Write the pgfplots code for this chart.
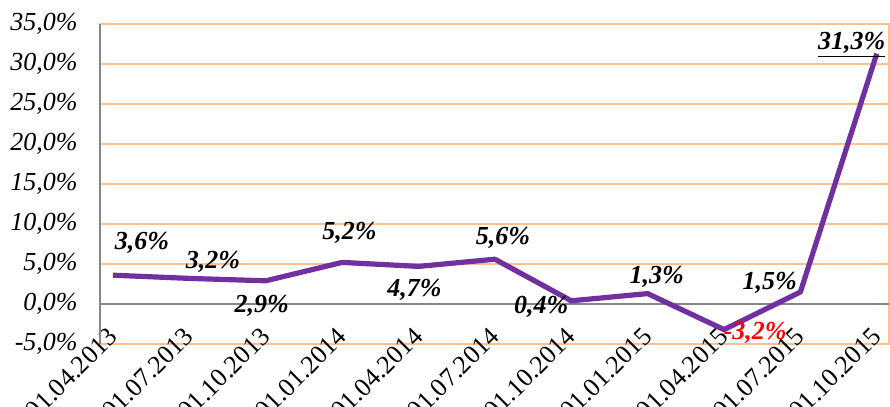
\documentclass[border=0pt]{standalone}
\usepackage{pgfplots}
\usepackage{pgfplotstable}
\pgfplotsset{compat=1.18}
\usepackage{fontspec}
\setmainfont{Liberation Serif}
\definecolor{lineP}{HTML}{7030A0}
\definecolor{gridO}{HTML}{FAC090}
\definecolor{axG}{HTML}{868686}
\pgfplotstableread{
x y dx dy lbl
0 3.6 14.5 16 {3,6\%}
1 3.2 11.8 8.2 {3,2\%}
2 2.9 -2 -12.6 {2,9\%}
3 5.2 3.7 14.7 {5,2\%}
4 4.7 -2 -11.8 {4,7\%}
5 5.6 4 10.6 {5,6\%}
6 0.4 -15 -3 {0,4\%}
7 1.3 4.5 8.3 {1,3\%}
8 -3.2 15.5 -1.7 {\textcolor{red}{-3,2\%}}
9 1.5 -15.3 4.5 {1,5\%}
10 31.3 -12.5 4.3 {\underline{31,3\%}}
}\datatab
\begin{document}
\begin{tikzpicture}
\begin{axis}[
  name=ax,
  scale only axis,
  width=394.5pt, height=160pt,
  xmin=-0.17, xmax=10.16,
  ymin=-5, ymax=35,
  ytick={-5,0,...,35},
  xtick={0,...,10},
  xticklabels={01.04.2013,01.07.2013,01.10.2013,01.01.2014,01.04.2014,01.07.2014,01.10.2014,01.01.2015,01.04.2015,01.07.2015,01.10.2015},
  major tick length=0pt,
  ymajorgrids,
  grid style={gridO, line width=1pt},
  axis line style={gridO, line width=1pt},
  /pgf/number format/assume math mode=true,
  yticklabel={\textit{\pgfmathprintnumber[fixed,fixed zerofill,precision=1,use comma]{\tick}\%}},
  yticklabel style={font=\fontsize{13}{15}\selectfont, anchor=east, inner xsep=0pt, xshift=-11pt},
  xticklabel style={font=\fontsize{13}{15}\selectfont, yshift=6pt, xshift=0pt, rotate=45, anchor=east, inner sep=0pt},
  extra y ticks={0},
  extra y tick labels={},
  extra y tick style={grid style={axG, line width=1pt}},
  clip=false,
]
\draw[axG, line width=1pt] (rel axis cs:0,0) -- (rel axis cs:0,1);
\addplot[lineP, line width=2.6pt, line join=round, mark=none] table[x=x, y=y] {\datatab};
\addplot[draw=none, mark=none,
  point meta=explicit symbolic,
  visualization depends on={\thisrow{dx} \as \dx},
  visualization depends on={\thisrow{dy} \as \dy},
  nodes near coords,
  nodes near coords style={anchor=center, xshift=\dx pt, yshift=\dy pt, font=\fontsize{13}{15}\selectfont\bfseries\itshape, text=black, inner sep=0pt},
] table[x=x, y=y, meta=lbl] {\datatab};
\end{axis}
\pgfresetboundingbox
\path[use as bounding box] ([xshift=-50pt,yshift=-31.5pt]ax.south west) rectangle ([xshift=0.5pt,yshift=12pt]ax.north east);
\end{tikzpicture}
\end{document}
